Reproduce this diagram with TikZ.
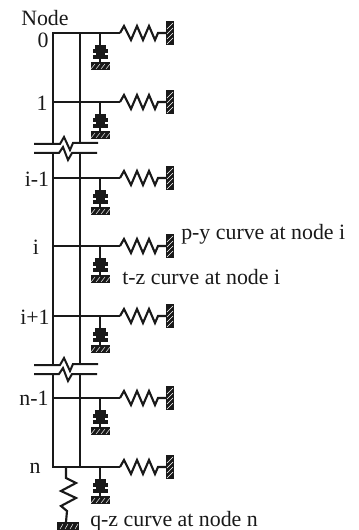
\documentclass[tikz,border=0pt]{standalone}
\usepackage{fontspec}
\setmainfont{Liberation Serif}
\begin{document}
\begin{tikzpicture}[x=0.75pt,y=-0.75pt,
  lbl/.style={inner sep=0pt,font=\fontsize{16.4}{18}\selectfont,text=black!90},
  bar/.style={line width=1.8pt,black!90},
  thin bar/.style={line width=1.5pt,black!90},
  spr/.style={line width=1.6pt,black!90,line join=miter}]
\useasboundingbox (0,0) rectangle (359,530);
% nodes on the pile
\foreach \n/\yy in {0/33,1/102,a/178,b/246,c/316,d/398,n/467}{
  \coordinate (L\n) at (53,\yy);
  \coordinate (R\n) at (80,\yy);
  \coordinate (D\n) at (100,\yy);
  \coordinate (S\n) at (120,\yy);
  \coordinate (W\n) at (166,\yy);
  \draw[bar] (L\n) -- (R\n) -- (S\n);
  % lateral spring
  \draw[spr] (S\n) -- ++(4,-7) -- ++(7,14) -- ++(6,-14) -- ++(6,14) -- ++(6,-14) -- ++(6,14) -- ++(3,-7) -- (W\n);
  % wall
  \fill[black!90] (W\n)+(0,-12) rectangle +(8,12);
  \foreach \k in {-7,-2,3,8}
    \draw[white,line width=0.35pt] (W\n)+(1,\k+3) -- +(7,\k-3);
  % vertical t-z element
  \draw[spr] (D\n) -- ++(0,30);
  \fill[black!90] (D\n)+(-5,12) rectangle +(6,16);
  \fill[black!90] (D\n)+(-7,16) rectangle +(8,20);
  \fill[black!90] (D\n)+(-4,20) rectangle +(5,22);
  \fill[black!90] (D\n)+(-7,22) rectangle +(8,26);
  % its ground
  \fill[black!90] (D\n)+(-9,29) rectangle +(10,37);
  \foreach \k in {-7,-2,3,8}
    \draw[white,line width=0.35pt] (D\n)+(\k-2,36) -- +(\k+2,31);
}
% piles
\draw[bar] (L0) -- (53,144) (53,153) -- (53,365) (53,374) -- (Ln);
\draw[bar] (R0) -- (80,144) (80,153) -- (80,365) (80,374) -- (Rn);
\draw[bar] ([xshift=-0.7pt]L0) -- (R0);
\draw[bar] ([xshift=-0.7pt]Ln) -- (Rn);
% breaks
\foreach \yy/\dd in {144/0,365/0}{
  \draw[thin bar] (34,\yy) -- (60,\yy) -- (64,\yy-7) -- (70,\yy+6) -- (73,\yy-1) -- (98,\yy-1);
  \draw[thin bar] (34,\yy+9) -- (59,\yy+9) -- (63,\yy+3) -- (68,\yy+16) -- (72,\yy+9) -- (97,\yy+9);
}
% bottom spring
\coordinate (Q1) at (66,467);
\coordinate (Q2) at (66,522);
\draw[spr] (Q1) -- (66,478) -- (76,483) -- (61,491) -- (76,498) -- (61,506) -- (67,511) -- (Q2);
\fill[black!90] (57,522) rectangle (79,530);
\foreach \k in {60,65,70,75}
  \draw[white,line width=0.35pt] (\k,529) -- (\k+3,524);
% labels
\node[lbl,anchor=west] (nodeT) at (21,18) {Node};
\node[lbl] (t0) at (43,40) {0};
\node[lbl] (t1) at (42,103) {1};
\node[lbl] (ta) at (37,179) {i-1};
\node[lbl] (tb) at (36,247) {i};
\node[lbl] (tc) at (35,317) {i+1};
\node[lbl] (td) at (34,398) {n-1};
\node[lbl] (tn) at (35,468) {n};
\node[lbl,anchor=west] (py) at (181,234) {p-y curve at node i};
\node[lbl,anchor=west] (tz) at (122,277) {t-z curve at node i};
\node[lbl,anchor=west] (qz) at (90,521) {q-z curve at node n};
\end{tikzpicture}
\end{document}
